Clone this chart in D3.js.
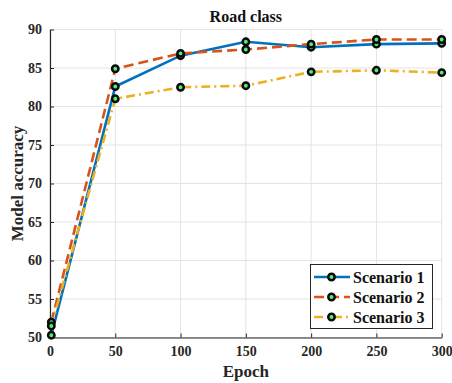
<!DOCTYPE html>
<html><head><meta charset="utf-8">
<script src="https://cdn.jsdelivr.net/npm/d3@7"></script>
<style>body{margin:0;background:#fff}svg{display:block}</style>
</head><body>
<script>
const epochs = [1, 50, 100, 150, 200, 250, 300];
const scenario1 = [50.3, 82.6, 86.6, 88.4, 87.7, 88.1, 88.2];
const scenario2 = [52.0, 84.9, 86.9, 87.4, 88.1, 88.7, 88.7];
const scenario3 = [51.5, 81.0, 82.5, 82.7, 84.5, 84.7, 84.4];
const seriesNames = ["Scenario 1", "Scenario 2", "Scenario 3"];
const xTicks = [0, 50, 100, 150, 200, 250, 300];
const yTicks = [50, 55, 60, 65, 70, 75, 80, 85, 90];

const W = 452, H = 383;
const m = {l: 50, r: 10.3, t: 29.5, b: 45.5};
const font = "'Liberation Serif','Times New Roman',serif";
const svg = d3.select("body").append("svg").attr("width", W).attr("height", H);
const x = d3.scaleLinear().domain([0, 300]).range([m.l, W - m.r]);
const y = d3.scaleLinear().domain([50, 90]).range([H - m.b, m.t]);

// grid
const g = svg.append("g");
g.selectAll(".vx").data(xTicks).join("line")
  .attr("x1", d => x(d)).attr("x2", d => x(d)).attr("y1", y(50)).attr("y2", y(90))
  .attr("stroke", "#e3e3e3").attr("stroke-width", 1);
g.selectAll(".hy").data(yTicks).join("line")
  .attr("x1", x(0)).attr("x2", x(300)).attr("y1", d => y(d)).attr("y2", d => y(d))
  .attr("stroke", "#e3e3e3").attr("stroke-width", 1);

// axes
const xa = svg.append("g").attr("transform", `translate(0,${y(50)})`)
  .call(d3.axisBottom(x).tickValues(xTicks).tickSizeInner(-4).tickSizeOuter(0).tickPadding(9));
const ya = svg.append("g").attr("transform", `translate(${x(0)},0)`)
  .call(d3.axisLeft(y).tickValues(yTicks).tickSizeInner(-4).tickSizeOuter(0).tickPadding(8));
[xa, ya].forEach(a => {
  a.select(".domain").attr("stroke", "#262626").attr("stroke-width", 1.2);
  a.selectAll(".tick line").attr("stroke", "#262626");
  a.selectAll("text").attr("font-family", font).attr("font-weight", "bold")
    .attr("font-size", 14).attr("fill", "#262626");
});

// lines
const colors = ["#0072BD", "#D95319", "#EDB120"];
const dashes = [null, "10,5", "9,4,2,4"];
const data = [scenario1, scenario2, scenario3];
const line = d3.line().x((d, i) => x(epochs[i])).y(d => y(d));
data.forEach((s, k) => {
  svg.append("path").datum(s).attr("d", line).attr("fill", "none")
    .attr("stroke", colors[k]).attr("stroke-width", 2.6)
    .attr("stroke-dasharray", dashes[k]);
});
data.forEach((s, k) => {
  svg.append("g").selectAll("circle").data(s).join("circle")
    .attr("cx", (d, i) => x(epochs[i])).attr("cy", d => y(d)).attr("r", 3.2)
    .attr("fill", "#4ef07a").attr("stroke", "#0a0a0a").attr("stroke-width", 2.5);
});

// title and labels
svg.append("text").attr("x", (x(0) + x(300)) / 2).attr("y", 22).attr("text-anchor", "middle")
  .attr("font-family", font).attr("font-weight", "bold").attr("font-size", 16).attr("fill", "#111")
  .text("Road class");
svg.append("text").attr("x", (x(0) + x(300)) / 2).attr("y", 377).attr("text-anchor", "middle")
  .attr("font-family", font).attr("font-weight", "bold").attr("font-size", 17).attr("fill", "#262626")
  .text("Epoch");
svg.append("text").attr("transform", `translate(23,${(y(50) + y(90)) / 2}) rotate(-90)`)
  .attr("text-anchor", "middle")
  .attr("font-family", font).attr("font-weight", "bold").attr("font-size", 17).attr("fill", "#262626")
  .text("Model accuracy");

// legend
const lg = svg.append("g");
lg.append("rect").attr("x", 310.5).attr("y", 264.5).attr("width", 122).attr("height", 64)
  .attr("fill", "#fff").attr("stroke", "#262626").attr("stroke-width", 1);
seriesNames.forEach((n, k) => {
  const yy = 277 + k * 20;
  lg.append("line").attr("x1", 314).attr("x2", 350).attr("y1", yy).attr("y2", yy)
    .attr("stroke", colors[k]).attr("stroke-width", 2.6).attr("stroke-dasharray", dashes[k]);
  lg.append("circle").attr("cx", 331.5).attr("cy", yy).attr("r", 3.2)
    .attr("fill", "#4ef07a").attr("stroke", "#0a0a0a").attr("stroke-width", 2.5);
  lg.append("text").attr("x", 353).attr("y", yy + 5.5)
    .attr("font-family", font).attr("font-weight", "bold").attr("font-size", 16).attr("fill", "#111")
    .text(n);
});
</script>
</body></html>
